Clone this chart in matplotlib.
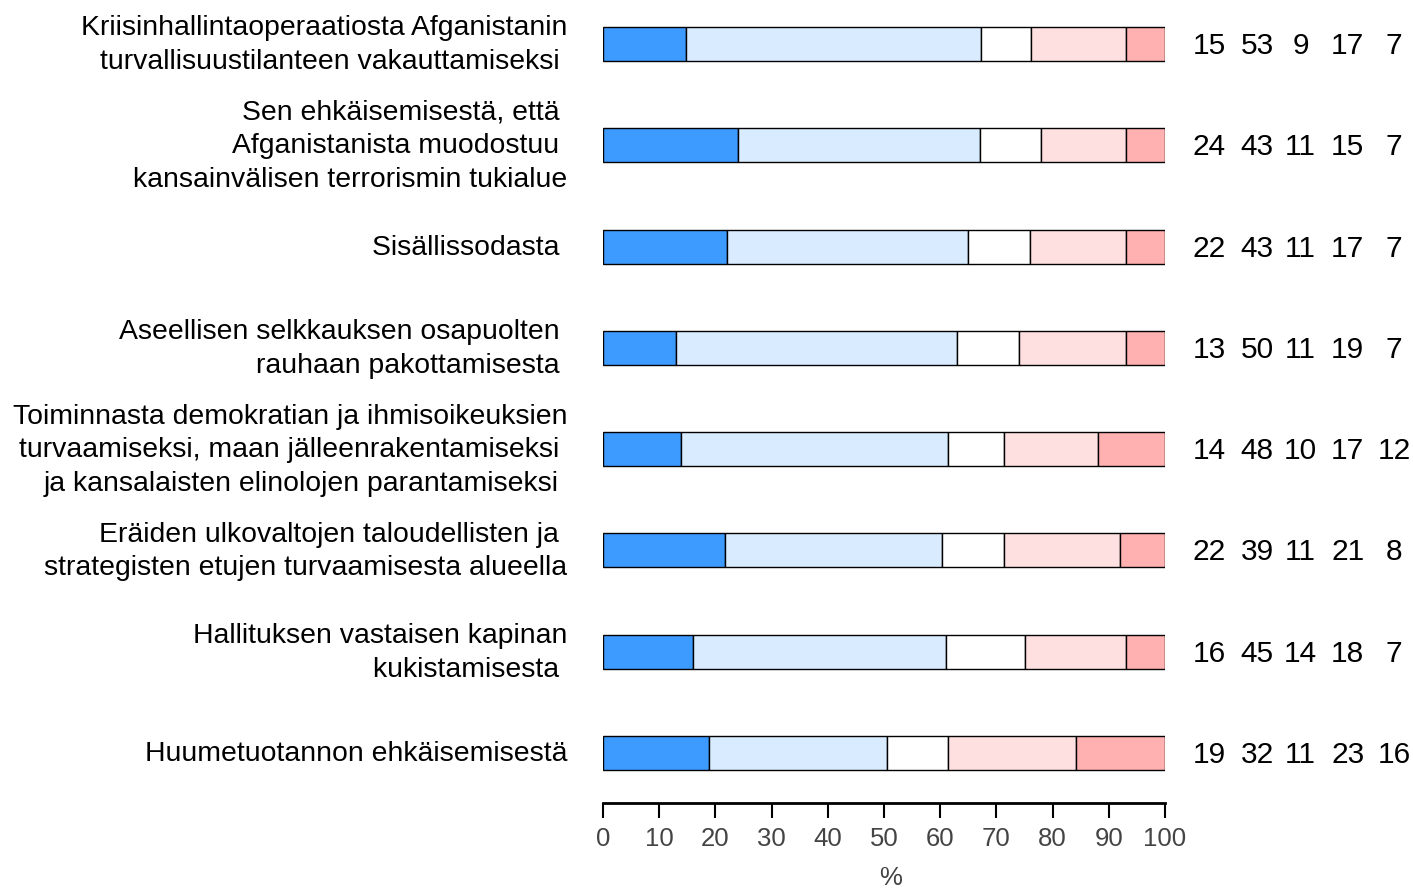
import matplotlib
matplotlib.use('Agg')
import matplotlib.pyplot as plt
import numpy as np

plt.rcParams['font.family'] = ['Liberation Sans', 'DejaVu Sans']

# Survey items (multi-line, as printed)
labels = [
    "Kriisinhallintaoperaatiosta Afganistanin\nturvallisuustilanteen vakauttamiseksi ",
    "Sen ehkäisemisestä, että \nAfganistanista muodostuu \nkansainvälisen terrorismin tukialue",
    "Sisällissodasta ",
    "Aseellisen selkkauksen osapuolten \nrauhaan pakottamisesta ",
    "Toiminnasta demokratian ja ihmisoikeuksien\nturvaamiseksi, maan jälleenrakentamiseksi \nja kansalaisten elinolojen parantamiseksi ",
    "Eräiden ulkovaltojen taloudellisten ja \nstrategisten etujen turvaamisesta alueella",
    "Hallituksen vastaisen kapinan\nkukistamisesta ",
    "Huumetuotannon ehkäisemisestä",
]

# Answer shares (%) per item, five response classes
very_much = [15, 24, 22, 13, 14, 22, 16, 19]
somewhat = [53, 43, 43, 50, 48, 39, 45, 32]
neutral = [9, 11, 11, 11, 10, 11, 14, 11]
little = [17, 15, 17, 19, 17, 21, 18, 23]
not_at_all = [7, 7, 7, 7, 12, 8, 7, 16]

colors = ['#3d9bff', '#d9ecff', '#ffffff', '#ffe0e0', '#ffb0b0']

W, H = 1413, 890
fig = plt.figure(figsize=(W / 100, H / 100), dpi=100)
ax = fig.add_axes([603 / W, (H - 803) / H, 562 / W, 803 / H])

series = np.array([very_much, somewhat, neutral, little, not_at_all], dtype=float)
shares = series / series.sum(axis=0) * 100
y = np.arange(len(labels))

left = np.zeros(len(labels))
for vals, c in zip(shares, colors):
    ax.barh(y, vals, left=left, height=0.335, color=c, edgecolor='black', linewidth=1.0)
    left += vals

ax.set_xlim(0, 100)
ax.set_ylim(7 + 50 / 101.3, -44 / 101.3)

for i, lab in enumerate(labels):
    ax.text(-6.4, y[i] + 0.01, lab, ha='right', va='center', fontsize=20.4, linespacing=1.38)

# Numbers printed to the right of each bar
col_x = [107.9, 116.4, 124.1, 132.5, 140.8]
for i in range(len(labels)):
    for k in range(5):
        ax.text(col_x[k], y[i] + 0.02, str(int(series[k, i])), ha='center', va='center',
                fontsize=21.5, clip_on=False)

for s in ['left', 'top', 'right']:
    ax.spines[s].set_visible(False)
ax.spines['bottom'].set_linewidth(2)
ax.set_yticks([])
ax.set_xticks(np.arange(0, 101, 10))
ax.tick_params(axis='x', length=11, width=1.5, pad=6, labelsize=18.5, labelcolor='#444444')
ax.set_xlabel('%', fontsize=18.5, color='#444444')
ax.xaxis.set_label_coords(0.512, -0.078)

fig.savefig('out.png', dpi=100)
